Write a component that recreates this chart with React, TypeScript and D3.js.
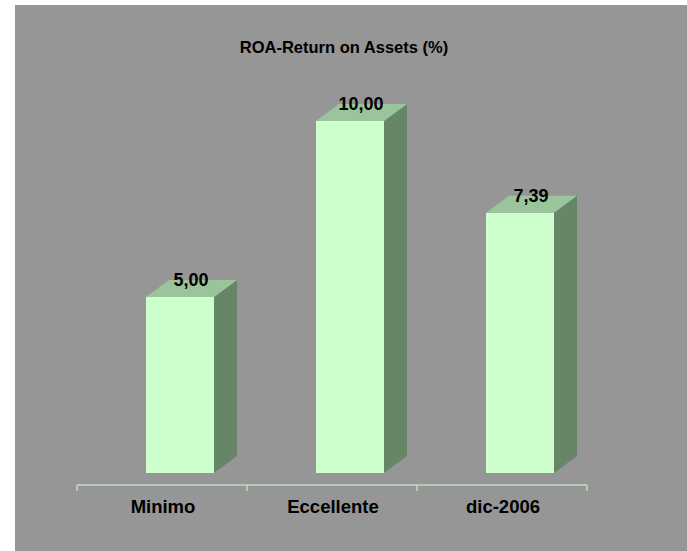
import React from "react";
import * as d3 from "d3";

const categories = ["Minimo", "Eccellente", "dic-2006"];
const values = [5.0, 10.0, 7.39];
const valueLabels = ["5,00", "10,00", "7,39"];
const title = "ROA-Return on Assets (%)";

export default function App() {
  const x = d3.scaleBand<string>().domain(categories).range([77, 587]).paddingInner(0).paddingOuter(0);
  const y = d3.scaleLinear().domain([0, 10]).range([473, 121]);
  const barW = 68;
  const dx = 23;
  const dy = -17;
  const axisY = 485;
  const font = "'Liberation Sans', Arial, Helvetica, sans-serif";

  return (
    <svg
      style={{ position: "fixed", left: 0, top: 0, width: "100vw", height: "100vh", display: "block", background: "#969696" }}
    >
      <rect x={0} y={0} width={15} height={3000} fill="#ffffff" />
      <rect x={0} y={0} width={3000} height={5} fill="#ffffff" />
      <text x={344} y={53} textAnchor="middle" fontFamily={font} fontWeight="bold" fontSize={16.5} fill="#000">
        {title}
      </text>
      {categories.map((c, i) => {
        const cx = (x(c) as number) + x.bandwidth() / 2;
        const left = cx - 16;
        const right = left + barW;
        const top = y(values[i]);
        const bottom = y(0);
        const topFace = `M${left},${top} L${left + dx},${top + dy} L${right + dx},${top + dy} L${right},${top} Z`;
        const sideFace = `M${right},${top} L${right + dx},${top + dy} L${right + dx},${bottom + dy} L${right},${bottom} Z`;
        return (
          <g key={c}>
            <path d={sideFace} fill="#678667" />
            <path d={topFace} fill="#9AC59A" />
            <rect x={left} y={top} width={barW} height={bottom - top} fill="#CCFFCC" />
            <text
              x={left + barW / 2 + 11}
              y={top - 11}
              textAnchor="middle"
              fontFamily={font}
              fontWeight="bold"
              fontSize={18}
              fill="#000"
            >
              {valueLabels[i]}
            </text>
          </g>
        );
      })}
      <line x1={x.range()[0]} x2={x.range()[1]} y1={axisY} y2={axisY} stroke="#CCFFCC" strokeWidth={1} />
      {[...categories.map((c) => x(c) as number), x.range()[1]].map((t, i) => (
        <line key={i} x1={t} x2={t} y1={axisY} y2={axisY + 6} stroke="#CCFFCC" strokeWidth={1} />
      ))}
      {categories.map((c) => (
        <text
          key={c}
          x={(x(c) as number) + x.bandwidth() / 2 + 1}
          y={513}
          textAnchor="middle"
          fontFamily={font}
          fontWeight="bold"
          fontSize={18.5}
          fill="#000"
        >
          {c}
        </text>
      ))}
    </svg>
  );
}
